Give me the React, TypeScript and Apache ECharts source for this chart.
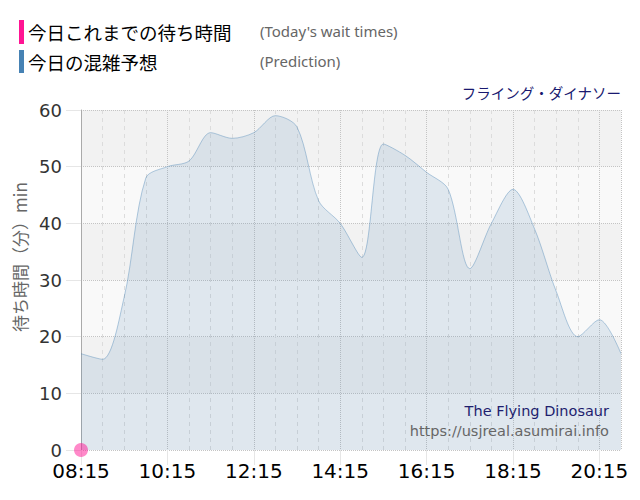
import React, { useEffect, useRef } from 'react';
import * as echarts from 'echarts';

// 30分ごとの時刻
const times = [
  '08:15', '08:45', '09:15', '09:45', '10:15', '10:45', '11:15', '11:45', '12:15',
  '12:45', '13:15', '13:45', '14:15', '14:45', '15:15', '15:45', '16:15', '16:45',
  '17:15', '17:45', '18:15', '18:45', '19:15', '19:45', '20:15', '20:45',
];

// 今日の混雑予想 (分)
const prediction = [
  17, 16, 27, 48, 50, 51, 56, 55, 56, 59, 57, 44, 40,
  34, 54, 52, 49, 46, 32, 40, 46, 39, 28, 20, 23, 17,
];

// 今日これまでの待ち時間 (分)
const actual = [0];

const attraction = 'フライング・ダイナソー';
const yName = '待ち時間（分）min';

const App = () => {
  const chartRef = useRef<HTMLDivElement>(null);

  useEffect(() => {
    if (!chartRef.current) return;
    const myChart = echarts.init(chartRef.current, undefined, { renderer: 'svg' });

    const latin = 'DejaVu Sans';
    const cjk = '"Noto Sans CJK JP"';
    const lastIdx = times.length - 1;

    const option = {
      animation: false,
      backgroundColor: '#ffffff',
      grid: { left: 81, right: 19, top: 110, bottom: 50, containLabel: false },
      xAxis: [
        {
          type: 'category',
          data: times,
          boundaryGap: false,
          axisLine: { show: false },
          axisTick: {
            show: true,
            length: 15,
            interval: 3,
            lineStyle: { color: '#e6e6e6' },
          },
          axisLabel: {
            interval: 3,
            margin: 12,
            lineHeight: 18,
            color: '#000',
            fontSize: 20,
            fontFamily: latin,
          },
          splitLine: {
            show: true,
            interval: (i: number) => i % 4 === 0 || i === lastIdx,
            lineStyle: { color: '#c4c4c4', type: 'dotted', width: 1 },
          },
        },
        {
          // 30分ごとの補助線
          type: 'category',
          data: times,
          boundaryGap: false,
          axisLine: { show: false },
          axisTick: { show: false },
          axisLabel: { show: false },
          splitLine: {
            show: true,
            interval: (i: number) => i % 4 !== 0 && i !== lastIdx,
            lineStyle: { color: '#dcdcdc', type: [4, 4], width: 1 },
          },
        },
      ],
      yAxis: {
        type: 'value',
        min: 0,
        max: 60,
        interval: 10,
        axisLine: { show: true, lineStyle: { color: '#aaaaaa' } },
        axisTick: { show: true, length: 15, lineStyle: { color: '#e6e6e6' } },
        axisLabel: { margin: 19, lineHeight: 16, color: '#333', fontSize: 18, fontFamily: latin },
        splitLine: { show: true, lineStyle: { color: '#c4c4c4', type: 'dotted' } },
        splitArea: { show: true, areaStyle: { color: ['#f9f9f9', '#f2f2f2'] } },
      },
      series: [
        {
          name: '今日の混雑予想',
          type: 'line',
          data: prediction,
          smooth: 0.3,
          symbol: 'none',
          lineStyle: { color: 'rgba(70,130,180,0.4)', width: 1 },
          areaStyle: { color: 'rgba(70,130,180,0.2)' },
          z: 2,
        },
        {
          name: '今日これまでの待ち時間',
          type: 'scatter',
          data: actual.map((v, i) => [i, v]),
          symbol: 'circle',
          symbolSize: 14,
          clip: false,
          itemStyle: { color: 'rgba(255,20,147,0.5)', opacity: 1 },
          z: 5,
        },
      ],
      graphic: [
        // 凡例
        { type: 'rect', shape: { x: 19, y: 20, width: 5, height: 24 }, style: { fill: '#ff1493' } },
        {
          type: 'text', x: 28, y: 32,
          style: { text: '今日これまでの待ち時間', fill: '#000', fontSize: 18.5, fontFamily: cjk, verticalAlign: 'middle' },
        },
        {
          type: 'text', x: 260, y: 31,
          style: { text: "(Today's wait times)", fill: '#666', fontSize: 15, fontFamily: 'Noto Sans', verticalAlign: 'middle' },
        },
        { type: 'rect', shape: { x: 19, y: 50, width: 5, height: 23 }, style: { fill: '#4682b4' } },
        {
          type: 'text', x: 28, y: 62,
          style: { text: '今日の混雑予想', fill: '#000', fontSize: 18.5, fontFamily: cjk, verticalAlign: 'middle' },
        },
        {
          type: 'text', x: 260, y: 61,
          style: { text: '(Prediction)', fill: '#666', fontSize: 15, fontFamily: 'Noto Sans', verticalAlign: 'middle' },
        },
        // アトラクション名
        {
          type: 'text', x: 621, y: 92,
          style: { text: attraction, fill: '#191970', fontSize: 14.5, fontFamily: cjk, align: 'right', verticalAlign: 'middle' },
        },
        // 縦軸名
        {
          type: 'text', x: 19, y: 257, rotation: Math.PI / 2,
          style: { text: yName, fill: '#666', fontSize: 17, fontFamily: cjk, align: 'center', verticalAlign: 'middle' },
        },
        // 透かし
        {
          type: 'text', x: 609, y: 411, z: 10,
          style: { text: 'The Flying Dinosaur', fill: '#1e1e6e', fontSize: 14.5, fontFamily: latin, align: 'right', verticalAlign: 'middle' },
        },
        {
          type: 'text', x: 609, y: 431, z: 10,
          style: { text: 'https://usjreal.asumirai.info', fill: '#666', fontSize: 14.5, fontFamily: latin, align: 'right', verticalAlign: 'middle' },
        },
      ],
    };

    myChart.setOption(option);

    return () => {
      myChart.dispose();
    };
  }, []);

  return (
    <div
      ref={chartRef}
      style={{ position: 'absolute', left: 0, top: 0, width: 640, height: 500 }}
    ></div>
  );
};

export default App;
